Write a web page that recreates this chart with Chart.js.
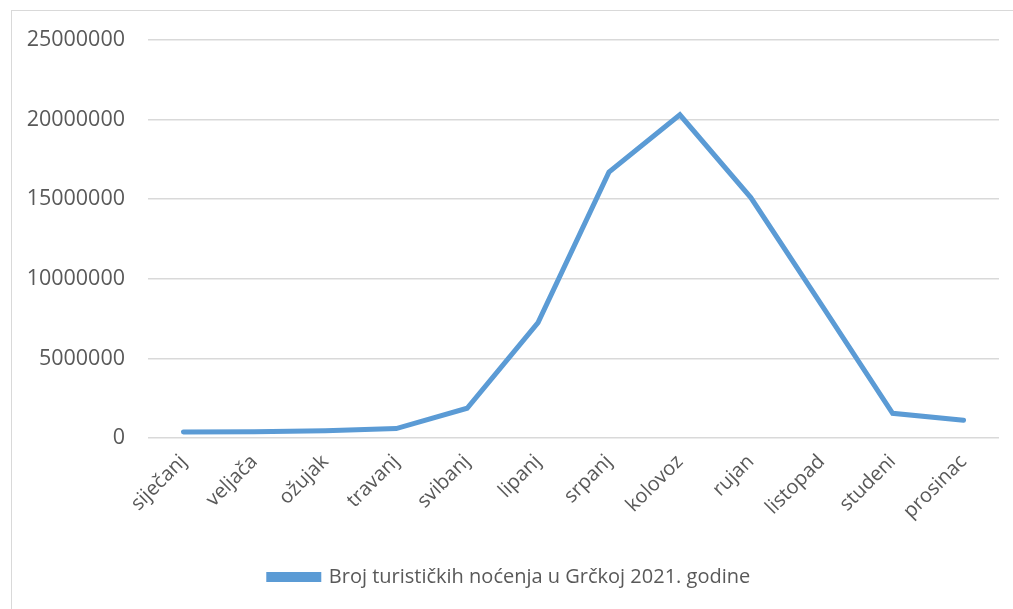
<!DOCTYPE html>
<html>
<head>
<meta charset="utf-8">
<script src="https://cdn.jsdelivr.net/npm/chart.js@4"></script>
<style>
  body { margin: 0; background: #fff; }
  #wrap { position: relative; width: 1013px; height: 609px; }
  #frame { position: absolute; left: 11px; top: 10px; width: 1010px; height: 610px; border: 1px solid #d9d9d9; box-sizing: border-box; }
  canvas { position: absolute; left: 0; top: 0; }
</style>
</head>
<body>
<div id="wrap">
  <div id="frame"></div>
  <canvas id="c" width="1013" height="609"></canvas>
</div>
<script>
const months = ['siječanj', 'veljača', 'ožujak', 'travanj', 'svibanj', 'lipanj', 'srpanj', 'kolovoz', 'rujan', 'listopad', 'studeni', 'prosinac'];
const nights = [380000, 400000, 460000, 590000, 1870000, 7250000, 16700000, 20300000, 15100000, 8350000, 1550000, 1110000];
const seriesName = 'Broj turističkih noćenja u Grčkoj 2021. godine';

const blue = '#5b9bd5';
const textGrey = '#595959';
const font = "'Open Sans', sans-serif";

const data = {
    labels: months,
    datasets: [
        {
            label: seriesName,
            data: nights,
            borderColor: blue,
            backgroundColor: blue,
            borderWidth: 5,
            borderCapStyle: 'round',
            borderJoinStyle: 'miter',
            pointRadius: 0,
            tension: 0,
        }
    ],
};

const config = {
    type: 'line',
    data,
    options: {
        responsive: false,
        animation: false,
        layout: { padding: { left: 20, right: 14, top: 40, bottom: 12 } },
        scales: {
            x: {
                offset: true,
                grid: { display: false },
                border: { display: false },
                ticks: {
                    color: textGrey,
                    font: { family: font, size: 20 },
                    minRotation: 45,
                    maxRotation: 45,
                    padding: 4,
                },
                afterFit: (scale) => { scale.height = 119; },
            },
            y: {
                min: 0,
                max: 25000000,
                grid: { color: '#d9d9d9', lineWidth: 1.5, drawTicks: false },
                border: { display: false },
                ticks: {
                    stepSize: 5000000,
                    color: textGrey,
                    font: { family: font, size: 21.5 },
                    padding: 23,
                    callback: (v) => String(v),
                },
                afterFit: (scale) => { scale.width = 128; },
            },
        },
        plugins: {
            legend: {
                position: 'bottom',
                labels: {
                    color: textGrey,
                    font: { family: font, size: 20 },
                    boxWidth: 50,
                    boxHeight: 5,
                    padding: 10,
                },
            },
            tooltip: { enabled: false },
        },
    },
};

new Chart(document.getElementById('c'), config);
</script>
</body>
</html>
